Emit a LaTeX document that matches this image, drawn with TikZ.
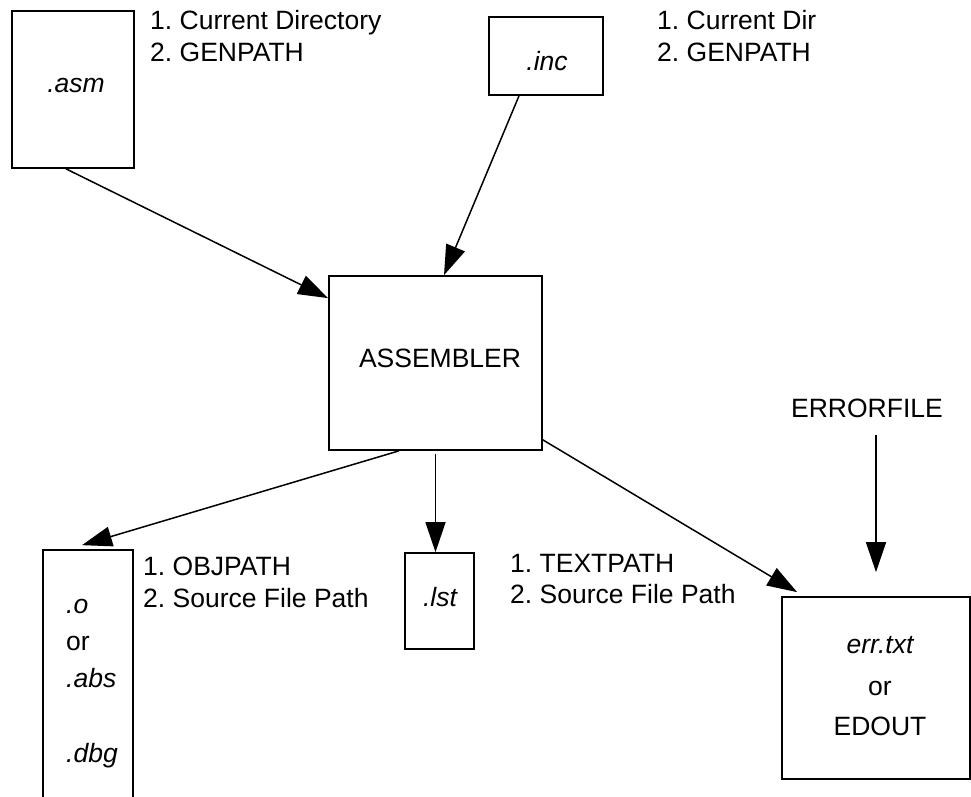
\documentclass[tikz,border=0pt]{standalone}
\usepackage{fontspec}
\setmainfont{Liberation Sans}
\usetikzlibrary{arrows.meta}
\begin{document}
\frenchspacing
\begin{tikzpicture}[x=1pt,y=-1pt,
  box/.style={draw,line width=1.7pt,rectangle,inner sep=0pt},
  lbl/.style={inner sep=0pt,font=\fontsize{26.5}{31}\selectfont},
  ilbl/.style={lbl,font=\fontsize{26.5}{31}\selectfont\itshape},
  conn/.style={line width=1.5pt,-{Triangle[length=30pt,width=20pt]}}]
\useasboundingbox (0,0) rectangle (971,797);

% boxes
\node[box,minimum width=122pt,minimum height=157pt] (asm) at (73,89.5) {};
\node[box,minimum width=114pt,minimum height=78pt] (inc) at (546,56) {};
\node[box,minimum width=213pt,minimum height=174pt] (asmb) at (435.5,363) {};
\node[box,minimum width=90pt,minimum height=270pt] (obj) at (88,685) {};
\node[box,minimum width=69pt,minimum height=96pt] (lst) at (439.5,601) {};
\node[box,minimum width=188pt,minimum height=182pt] (err) at (876,688) {};

% texts in boxes
\node[ilbl,anchor=base] (tasm) at (76,93) {.asm};
\node[ilbl,anchor=base] (tinc) at (547,71) {.inc};
\node[lbl,anchor=base] (tasmb) at (440,367) {ASSEMBLER};
\node[ilbl,anchor=base west] (to) at (66,613) {.o};
\node[lbl,anchor=base west] (tor) at (66,650) {or};
\node[ilbl,anchor=base west] (tabs) at (66,687) {.abs};
\node[ilbl,anchor=base west] (tdbg) at (66,762) {.dbg};
\node[ilbl,anchor=base] (tlst) at (440,606) {.lst};
\node[ilbl,anchor=base] (terr) at (880,653) {err.txt};
\node[lbl,anchor=base] (teor) at (880,695) {or};
\node[lbl,anchor=base] (tedout) at (880,735) {EDOUT};

% path notes
\node[lbl,anchor=base west] (n1a) at (150,30) {1. Current Directory};
\node[lbl,anchor=base west] (n1b) at (150,62) {2. GENPATH};
\node[lbl,anchor=base west] (n2a) at (657,30) {1. Current Dir};
\node[lbl,anchor=base west] (n2b) at (657,62) {2. GENPATH};
\node[lbl,anchor=base west] (n3a) at (143,575) {1. OBJPATH};
\node[lbl,anchor=base west] (n3b) at (143,607) {2. Source File Path};
\node[lbl,anchor=base west] (n4a) at (510,572) {1. TEXTPATH};
\node[lbl,anchor=base west] (n4b) at (510,603) {2. Source File Path};
\node[lbl,anchor=base] (errf) at (867,417) {ERRORFILE};

% connectors
\draw[conn] ([xshift=-7pt]asm.south) -- ([yshift=-23pt]asmb.north west);
\draw[conn] ([xshift=-27pt]inc.south) -- ([xshift=8.5pt]asmb.north);
\draw[conn] ([xshift=-36.5pt]asmb.south) -- ([xshift=-6pt,yshift=4pt]obj.north);
\draw[conn] ([yshift=-3pt]asmb.south) -- (asmb.south |- lst.north);
\draw[conn] ([yshift=11pt]asmb.south east) -- ([xshift=16pt,yshift=4pt]err.north west);
\draw[conn] ([xshift=9pt,yshift=-18pt]errf.base) -- ([yshift=24pt]err.north);
\end{tikzpicture}
\end{document}
